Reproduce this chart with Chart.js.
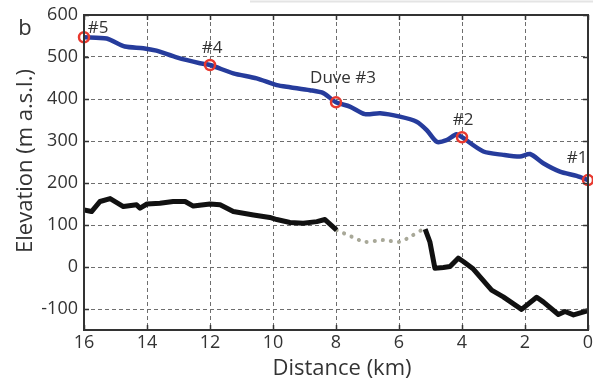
<!DOCTYPE html>
<html>
<head>
<meta charset="utf-8">
<script src="https://cdn.jsdelivr.net/npm/chart.js@4/dist/chart.umd.min.js"></script>
<style>
  html, body { margin: 0; padding: 0; background: #ffffff; }
  #wrap { width: 593px; height: 380px; position: relative; }
</style>
</head>
<body>
<div id="wrap"><canvas id="c" width="593" height="380"></canvas></div>
<script>
// ---- data ----
const xTicks = [0, 2, 4, 6, 8, 10, 12, 14, 16];
const yTicks = [-100, 0, 100, 200, 300, 400, 500, 600];

const surfaceKm   = [16, 15.28, 14.7, 14.12, 13.7, 13.06, 12.32, 12, 11.26, 10.52, 9.88, 9.46, 8.83, 8.4, 8, 7.56, 7.08, 6.6, 5.97, 5.44, 5.12, 4.8, 4.49, 4.17, 4, 3.32, 2.69, 2.16, 1.84, 1.42, 0.89, 0.36, 0];
const surfaceElev = [547, 544, 525, 521, 515, 499, 485, 481, 461, 449, 433, 428, 421, 414, 392, 382, 364, 366, 358, 346, 326, 298, 302, 316, 309, 275, 267, 263, 269, 247, 227, 217, 207];

const bedKm   = [16, 15.76, 15.49, 15.17, 14.75, 14.33, 14.22, 14.0, 13.59, 13.17, 12.79, 12.53, 12, 11.68, 11.26, 10.62, 10.1, 9.88, 9.46, 9.04, 8.61, 8.35, 7.98];
const bedElev = [136, 132, 156, 163, 144, 148, 140, 150, 152, 156, 156, 145, 150, 148, 132, 124, 118, 113, 106, 104, 108, 113, 88];

const gapKm   = [7.98, 7.5, 7.08, 6.5, 5.97, 5.65, 5.28];
const gapElev = [88, 72, 60, 64, 60, 72, 88];

const bed2Km   = [5.17, 5.02, 4.86, 4.59, 4.38, 4.12, 3.96, 3.64, 3.06, 2.69, 2.11, 1.63, 1.42, 0.94, 0.73, 0.46, 0];
const bed2Elev = [90, 60, -3, -1, 1, 21, 13, -5, -55, -71, -101, -72, -83, -113, -106, -114, -104];

const siteKm     = [16, 12, 8, 4, 0];
const siteElev   = [547, 481, 392, 309, 207];
const siteLabels = ['#5', '#4', 'Duve #3', '#2', '#1'];

const panelLabel = 'b';
const xTitle = 'Distance (km)';
const yTitle = 'Elevation (m a.s.l.)';

// ---- helpers ----
const pts = (xs, ys) => xs.map((x, i) => ({ x: x, y: ys[i] }));
const FONT = '"Open Sans", "Liberation Sans", sans-serif';
const TXT = '#333333';
// pixel offsets (centre x, baseline y) of the station labels relative to their markers
const labelOffsets = [[14, -4], [2, -12], [7, -19], [1, -12], [-11, -17]];

const decor = {
  id: 'decor',
  beforeDraw(chart) {
    const ctx = chart.ctx;
    ctx.save();
    ctx.strokeStyle = '#e4e4e4';
    ctx.lineWidth = 2;
    ctx.beginPath();
    ctx.moveTo(250, 1.5); ctx.lineTo(593, 1.5);
    ctx.stroke();
    ctx.restore();
  },
  afterDatasetsDraw(chart) {
    const ctx = chart.ctx;
    const a = chart.chartArea;
    const xs = chart.scales.x, ys = chart.scales.y;
    ctx.save();
    // frame
    ctx.strokeStyle = '#333333';
    ctx.lineWidth = 2;
    ctx.strokeRect(a.left, a.top, a.right - a.left, a.bottom - a.top);
    // small inward ticks
    ctx.lineWidth = 1.5;
    ctx.beginPath();
    xTicks.forEach(v => {
      const px = Math.round(xs.getPixelForValue(v)) + 0.5;
      ctx.moveTo(px, a.top); ctx.lineTo(px, a.top + 5);
      ctx.moveTo(px, a.bottom); ctx.lineTo(px, a.bottom - 5);
    });
    yTicks.forEach(v => {
      const py = Math.round(ys.getPixelForValue(v)) + 0.5;
      ctx.moveTo(a.left, py); ctx.lineTo(a.left + 5, py);
      ctx.moveTo(a.right, py); ctx.lineTo(a.right - 5, py);
    });
    ctx.stroke();
    // station labels
    ctx.fillStyle = TXT;
    ctx.font = '17px ' + FONT;
    ctx.textAlign = 'center';
    ctx.textBaseline = 'alphabetic';
    siteLabels.forEach((t, i) => {
      const px = xs.getPixelForValue(siteKm[i]) + labelOffsets[i][0];
      const py = ys.getPixelForValue(siteElev[i]) + labelOffsets[i][1];
      ctx.fillText(t, px, py);
    });
    // panel letter and axis titles
    ctx.font = '22px ' + FONT;
    ctx.fillText(panelLabel, 25, 35);
    ctx.fillText(xTitle, (a.left + a.right) / 2 + 6, 375);
    ctx.translate(32, 161);
    ctx.rotate(-Math.PI / 2);
    ctx.fillText(yTitle, 0, 0);
    ctx.restore();
  }
};

new Chart(document.getElementById('c'), {
  type: 'scatter',
  data: {
    datasets: [
      {
        label: 'stations',
        data: pts(siteKm, siteElev),
        showLine: false,
        pointRadius: 5,
        pointBorderWidth: 2.5,
        pointBorderColor: '#e8392f',
        pointBackgroundColor: 'rgba(0,0,0,0)',
        clip: false
      },
      {
        label: 'surface',
        data: pts(surfaceKm, surfaceElev),
        showLine: true,
        borderColor: '#263c9c',
        borderWidth: 4.5,
        pointRadius: 0,
        tension: 0.25,
        borderCapStyle: 'round',
        borderJoinStyle: 'round',
        fill: false
      },
      {
        label: 'bed',
        data: pts(bedKm, bedElev),
        showLine: true,
        borderColor: '#111111',
        borderWidth: 5,
        pointRadius: 0,
        tension: 0,
        borderJoinStyle: 'round',
        fill: false
      },
      {
        label: 'bed gap',
        data: pts(gapKm, gapElev),
        showLine: true,
        borderColor: '#a8a898',
        borderWidth: 4,
        borderDash: [0.1, 8],
        borderCapStyle: 'round',
        pointRadius: 0,
        tension: 0.3,
        fill: false
      },
      {
        label: 'bed 2',
        data: pts(bed2Km, bed2Elev),
        showLine: true,
        borderColor: '#111111',
        borderWidth: 5,
        pointRadius: 0,
        tension: 0,
        borderJoinStyle: 'round',
        fill: false
      }
    ]
  },
  options: {
    responsive: false,
    animation: false,
    devicePixelRatio: 1,
    layout: { autoPadding: false, padding: { left: 0, top: 15, right: 5, bottom: 0 } },
    plugins: { legend: { display: false }, tooltip: { enabled: false } },
    scales: {
      x: {
        type: 'linear',
        reverse: true,
        min: 0, max: 16,
        afterBuildTicks: s => { s.ticks = xTicks.map(v => ({ value: v })); },
        afterFit: s => { s.height = 50; s.paddingLeft = 0; s.paddingRight = 0; },
        grid: { color: '#6e6e6e', lineWidth: 1, drawTicks: false },
        border: { display: false, dash: [4, 3] },
        ticks: { color: TXT, font: { family: FONT, size: 18 }, padding: 2, maxRotation: 0 }
      },
      y: {
        type: 'linear',
        min: -150, max: 600,
        afterBuildTicks: s => { s.ticks = yTicks.map(v => ({ value: v })); },
        afterFit: s => { s.width = 84; s.paddingTop = 0; s.paddingBottom = 0; },
        grid: { color: '#6e6e6e', lineWidth: 1, drawTicks: false },
        border: { display: false, dash: [4, 3] },
        ticks: { color: TXT, font: { family: FONT, size: 18 }, padding: 6 }
      }
    }
  },
  plugins: [decor]
});
</script>
</body>
</html>
